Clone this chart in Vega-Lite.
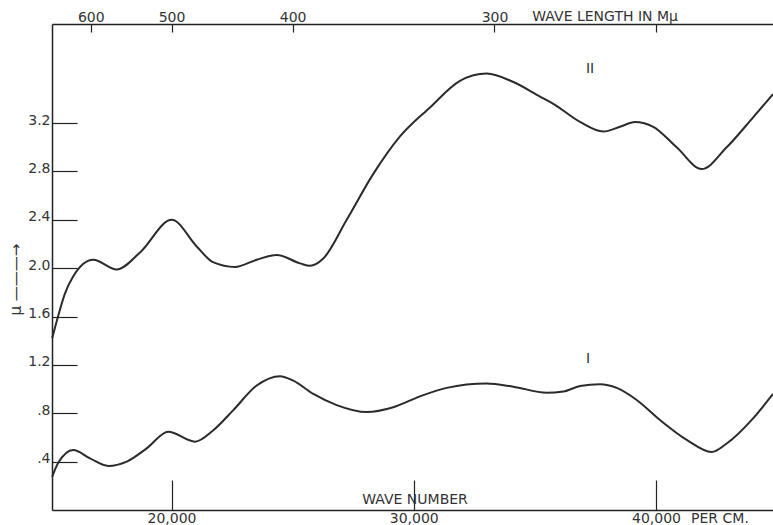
{
  "$schema": "https://vega.github.io/schema/vega-lite/v6.json",
  "width": 721,
  "height": 486,
  "autosize": {"type": "none"},
  "padding": {"left": 52, "top": 24, "right": 0, "bottom": 15},
  "background": "white",
  "config": {
    "view": {"stroke": null},
    "font": "DejaVu Sans",
    "axis": {
      "grid": false,
      "domainColor": "#222",
      "domainWidth": 1.5,
      "tickColor": "#222",
      "tickWidth": 1.2,
      "labelColor": "#333",
      "labelFont": "DejaVu Sans",
      "labelFontSize": 14,
      "titleFont": "DejaVu Sans",
      "titleColor": "#333",
      "titleFontWeight": "normal"
    }
  },
  "datasets": {
    "curves": [
      {"curve": "II", "wn": 15075, "mu": 1.42},
      {"curve": "II", "wn": 15315, "mu": 1.6},
      {"curve": "II", "wn": 15600, "mu": 1.79},
      {"curve": "II", "wn": 15934, "mu": 1.93},
      {"curve": "II", "wn": 16772, "mu": 2.07},
      {"curve": "II", "wn": 17738, "mu": 1.99},
      {"curve": "II", "wn": 18700, "mu": 2.13},
      {"curve": "II", "wn": 20008, "mu": 2.4},
      {"curve": "II", "wn": 21040, "mu": 2.18},
      {"curve": "II", "wn": 21713, "mu": 2.05},
      {"curve": "II", "wn": 22621, "mu": 2.01},
      {"curve": "II", "wn": 23517, "mu": 2.07},
      {"curve": "II", "wn": 24343, "mu": 2.11},
      {"curve": "II", "wn": 25305, "mu": 2.04},
      {"curve": "II", "wn": 25717, "mu": 2.02},
      {"curve": "II", "wn": 26266, "mu": 2.08},
      {"curve": "II", "wn": 27232, "mu": 2.4},
      {"curve": "II", "wn": 28330, "mu": 2.78},
      {"curve": "II", "wn": 29432, "mu": 3.09},
      {"curve": "II", "wn": 30671, "mu": 3.33},
      {"curve": "II", "wn": 31909, "mu": 3.55},
      {"curve": "II", "wn": 33011, "mu": 3.61},
      {"curve": "II", "wn": 34110, "mu": 3.54},
      {"curve": "II", "wn": 35212, "mu": 3.42},
      {"curve": "II", "wn": 35761, "mu": 3.36},
      {"curve": "II", "wn": 36863, "mu": 3.21},
      {"curve": "II", "wn": 37825, "mu": 3.13},
      {"curve": "II", "wn": 38514, "mu": 3.17},
      {"curve": "II", "wn": 39133, "mu": 3.21},
      {"curve": "II", "wn": 39889, "mu": 3.17},
      {"curve": "II", "wn": 40854, "mu": 3.0},
      {"curve": "II", "wn": 41887, "mu": 2.82},
      {"curve": "II", "wn": 42919, "mu": 3.0},
      {"curve": "II", "wn": 44017, "mu": 3.25},
      {"curve": "II", "wn": 44830, "mu": 3.44},
      {"curve": "I", "wn": 15075, "mu": 0.275},
      {"curve": "I", "wn": 15315, "mu": 0.386},
      {"curve": "I", "wn": 15946, "mu": 0.496},
      {"curve": "I", "wn": 16636, "mu": 0.427},
      {"curve": "I", "wn": 17391, "mu": 0.364},
      {"curve": "I", "wn": 18151, "mu": 0.4},
      {"curve": "I", "wn": 18976, "mu": 0.51},
      {"curve": "I", "wn": 19868, "mu": 0.647},
      {"curve": "I", "wn": 20970, "mu": 0.565},
      {"curve": "I", "wn": 21726, "mu": 0.66},
      {"curve": "I", "wn": 22551, "mu": 0.826},
      {"curve": "I", "wn": 23517, "mu": 1.03},
      {"curve": "I", "wn": 24479, "mu": 1.107},
      {"curve": "I", "wn": 25028, "mu": 1.07},
      {"curve": "I", "wn": 25854, "mu": 0.96},
      {"curve": "I", "wn": 26819, "mu": 0.868},
      {"curve": "I", "wn": 28058, "mu": 0.81},
      {"curve": "I", "wn": 29156, "mu": 0.85},
      {"curve": "I", "wn": 30258, "mu": 0.94},
      {"curve": "I", "wn": 31360, "mu": 1.01},
      {"curve": "I", "wn": 33011, "mu": 1.047},
      {"curve": "I", "wn": 34110, "mu": 1.02},
      {"curve": "I", "wn": 35489, "mu": 0.97},
      {"curve": "I", "wn": 36174, "mu": 0.98},
      {"curve": "I", "wn": 36863, "mu": 1.025},
      {"curve": "I", "wn": 37689, "mu": 1.04},
      {"curve": "I", "wn": 38378, "mu": 1.01},
      {"curve": "I", "wn": 39204, "mu": 0.91},
      {"curve": "I", "wn": 40166, "mu": 0.744},
      {"curve": "I", "wn": 41269, "mu": 0.58},
      {"curve": "I", "wn": 42299, "mu": 0.48},
      {"curve": "I", "wn": 42919, "mu": 0.55},
      {"curve": "I", "wn": 44017, "mu": 0.76},
      {"curve": "I", "wn": 44830, "mu": 0.96}
    ],
    "notes": [
      {"label": "II", "wn": 37276, "mu": 3.65},
      {"label": "I", "wn": 37193, "mu": 1.245},
      {"label": "WAVE NUMBER", "wn": 30052, "mu": 0.085},
      {"label": "PER CM.", "wn": 42640, "mu": -0.078},
      {"label": "WAVE LENGTH IN Mμ", "wn": 37900, "mu": 4.075}
    ]
  },
  "encoding": {
    "y": {
      "field": "mu",
      "type": "quantitative",
      "scale": {"domain": [0, 4.02], "nice": false},
      "axis": {
        "values": [0.4, 0.8, 1.2, 1.6, 2.0, 2.4, 2.8, 3.2],
        "labelExpr": "datum.value < 1 ? replace(format(datum.value, '.1f'), '0.', '.') : format(datum.value, '.1f')",
        "tickSize": -25,
        "labelPadding": 27,
        "labelBaseline": "bottom",
        "labelOffset": 4,
        "title": "μ  ———→",
        "titleFontSize": 15,
        "titlePadding": 4,
        "titleY": 255
      }
    }
  },
  "layer": [
    {
      "data": {"name": "curves"},
      "mark": {"type": "line", "interpolate": "monotone", "stroke": "#2b2b2b", "strokeWidth": 2},
      "encoding": {
        "x": {
          "field": "wn",
          "type": "quantitative",
          "scale": {"domain": [15067, 44830], "nice": false, "zero": false},
          "axis": {
            "orient": "bottom",
            "values": [20000, 30000, 40000],
            "format": ",d",
            "tickSize": -30,
            "labelPadding": 31,
            "labelFontSize": 14,
            "title": null
          }
        },
        "detail": {"field": "curve"}
      }
    },
    {
      "data": {"name": "notes"},
      "mark": {"type": "text", "fontSize": 14, "color": "#333", "font": "DejaVu Sans"},
      "encoding": {
        "x": {
          "field": "wn",
          "type": "quantitative",
          "axis": {
            "orient": "top",
            "values": [16666.667, 20000, 25000, 33333.333, 40000],
            "labelExpr": "datum.value > 39000 ? '' : format(10000000 / datum.value, 'd')",
            "tickSize": -8,
            "labelPadding": 8,
            "title": null
          }
        },
        "text": {"field": "label"}
      }
    }
  ],
  "resolve": {"axis": {"x": "independent"}}
}
